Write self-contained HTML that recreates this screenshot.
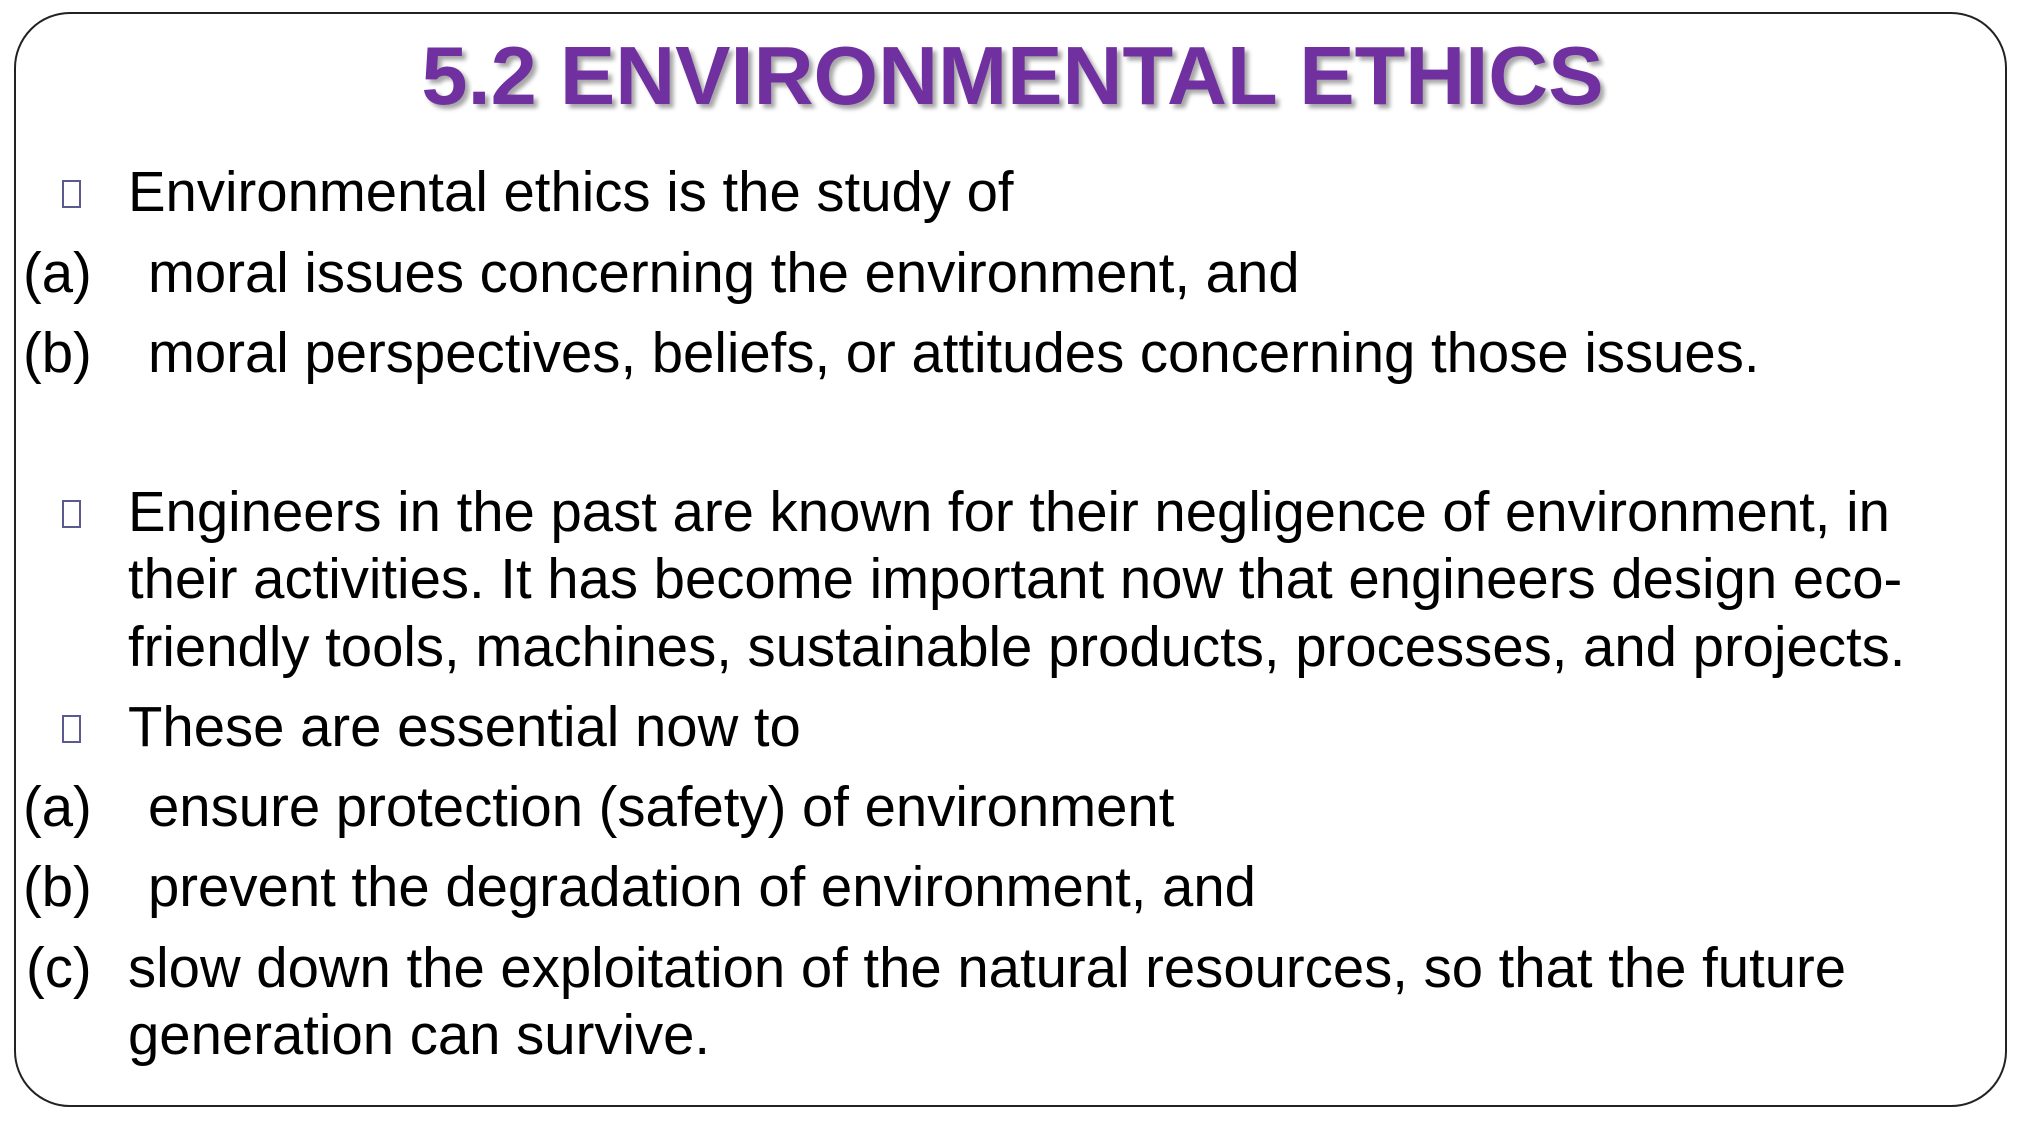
<!DOCTYPE html>
<html><head><meta charset="utf-8"><style>
body{margin:0;width:2025px;height:1125px;background:#fff;position:relative;overflow:hidden;font-family:"Liberation Sans",Arial,sans-serif;}
.frame{position:absolute;left:14px;top:12px;width:1993px;height:1095px;border:2px solid #222;border-radius:56px;box-sizing:border-box;}
.t{position:absolute;font-size:56.3px;line-height:56px;color:#000;white-space:nowrap;}
.title{position:absolute;left:0;width:2025px;text-align:center;top:34px;font-size:83px;line-height:83px;font-weight:bold;color:#7030a0;text-shadow:4px 4px 4px rgba(0,0,0,0.35);}
.b{position:absolute;left:62px;width:15px;height:24px;border:2px solid #5a5a8c;}
</style></head><body>
<div class="frame"></div>
<div class="title">5.2 ENVIRONMENTAL ETHICS</div>

<div class="b" style="top:180px"></div>
<div class="t" style="left:128px;top:164px">Environmental ethics is the study of</div>
<div class="t" style="left:23px;top:245px">(a)</div>
<div class="t" style="left:148px;top:245px">moral issues concerning the environment, and</div>
<div class="t" style="left:23px;top:325px">(b)</div>
<div class="t" style="left:148px;top:325px">moral perspectives, beliefs, or attitudes concerning those issues.</div>

<div class="b" style="top:500px"></div>
<div class="t" style="left:128px;top:484px">Engineers in the past are known for their negligence of environment, in</div>
<div class="t" style="left:128px;top:551px">their activities. It has become important now that engineers design eco-</div>
<div class="t" style="left:128px;top:619px">friendly tools, machines, sustainable products, processes, and projects.</div>

<div class="b" style="top:715px"></div>
<div class="t" style="left:128px;top:699px">These are essential now to</div>
<div class="t" style="left:23px;top:779px">(a)</div>
<div class="t" style="left:148px;top:779px">ensure protection (safety) of environment</div>
<div class="t" style="left:23px;top:859px">(b)</div>
<div class="t" style="left:148px;top:859px">prevent the degradation of environment, and</div>
<div class="t" style="left:26px;top:940px">(c)</div>
<div class="t" style="left:128px;top:940px">slow down the exploitation of the natural resources, so that the future</div>
<div class="t" style="left:128px;top:1007px">generation can survive.</div>
</body></html>
